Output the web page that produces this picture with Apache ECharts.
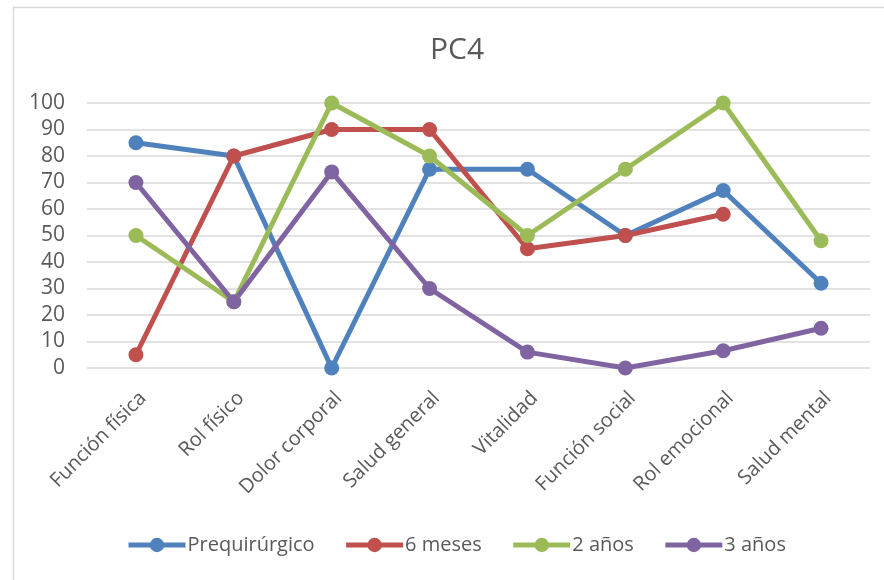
<!DOCTYPE html>
<html>
<head>
<meta charset="utf-8">
<script src="https://cdn.jsdelivr.net/npm/echarts@6/dist/echarts.min.js"></script>
<style>
  html, body { margin: 0; padding: 0; background: #fff; }
  #chart { width: 884px; height: 580px; }
</style>
</head>
<body>
<div id="chart"></div>
<script>
// SF-36 dimensions
const categories = ['Función física', 'Rol físico', 'Dolor corporal', 'Salud general',
  'Vitalidad', 'Función social', 'Rol emocional', 'Salud mental'];

// Scores per follow-up point
const prequirurgico = [85, 80, 0, 75, 75, 50, 67, 32];
const seisMeses     = [5, 80, 90, 90, 45, 50, 58, null];
const dosAnos       = [50, 25, 100, 80, 50, 75, 100, 48];
const tresAnos      = [70, 25, 74, 30, 6, 0, 6.5, 15];

const seriesNames  = ['Prequirúrgico', '6 meses', '2 años', '3 años'];
const seriesData   = [prequirurgico, seisMeses, dosAnos, tresAnos];
const seriesColors = ['#4F81BD', '#C0504D', '#9BBB59', '#8064A2'];

const textColor = '#595959';
const fontFamily = '"Open Sans", "Noto Sans", sans-serif';

const chart = echarts.init(document.getElementById('chart'));
chart.setOption({
  backgroundColor: '#ffffff',
  animation: false,
  color: seriesColors,
  textStyle: { fontFamily: fontFamily },
  graphic: [{
    type: 'rect',
    left: 11, top: 5,
    shape: { width: 900, height: 600 },
    style: { fill: 'none', stroke: '#d9d9d9', lineWidth: 1.5 },
    silent: true
  }],
  title: {
    text: 'PC4',
    left: 425,
    top: 30,
    textStyle: { color: textColor, fontSize: 30, fontWeight: 'normal', fontFamily: fontFamily }
  },
  legend: {
    bottom: 20,
    left: 121,
    itemWidth: 57,
    itemHeight: 18,
    itemGap: 29,
    lineStyle: { width: 5 },
    textStyle: { color: textColor, fontSize: 20, fontFamily: fontFamily, padding: [0, 0, 0, -3] },
    data: seriesNames
  },
  grid: { left: 87, right: 14, top: 103, bottom: 212 },
  xAxis: {
    type: 'category',
    data: categories,
    boundaryGap: true,
    axisLine: { show: false },
    axisTick: { show: false },
    axisLabel: {
      rotate: 45, color: textColor, fontSize: 20, margin: 20,
      verticalAlign: 'top', fontFamily: fontFamily
    }
  },
  yAxis: {
    type: 'value',
    min: 0, max: 100, interval: 10,
    axisLine: { show: false },
    axisTick: { show: false },
    axisLabel: { color: textColor, fontSize: 21, margin: 22, fontFamily: fontFamily },
    splitLine: { lineStyle: { color: '#d9d9d9', width: 1.5 } }
  },
  series: seriesNames.map((name, i) => ({
    name: name,
    type: 'line',
    data: seriesData[i],
    symbol: 'circle',
    symbolSize: 15,
    connectNulls: false,
    lineStyle: { width: 5, color: seriesColors[i] },
    itemStyle: { color: seriesColors[i] }
  }))
});
</script>
</body>
</html>
